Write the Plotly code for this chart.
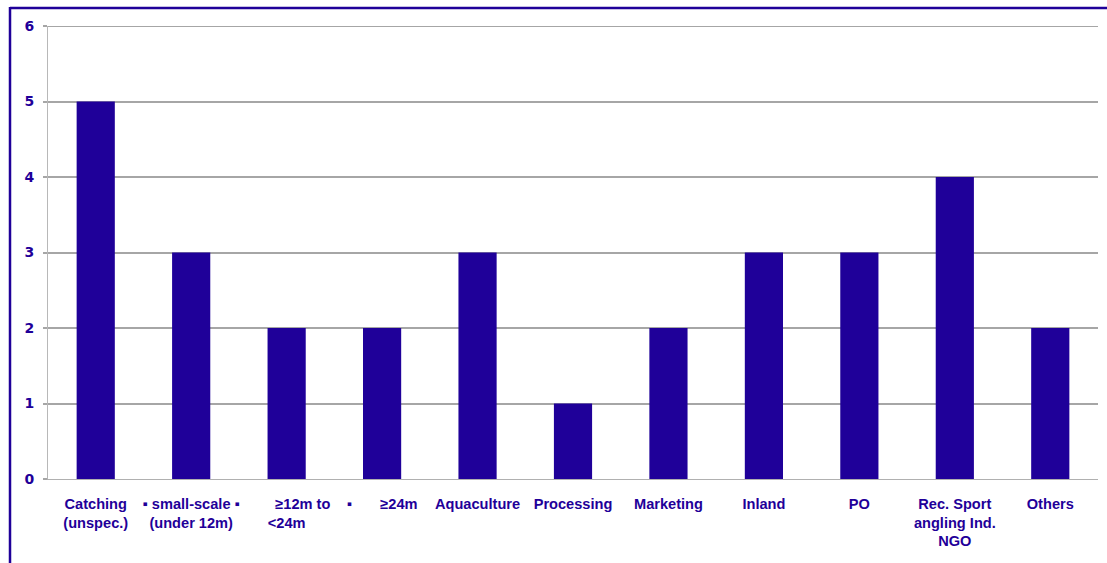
import plotly.graph_objects as go

categories = ["Catching (unspec.)", "small-scale (under 12m)", ">=12m to <24m", ">=24m",
              "Aquaculture", "Processing", "Marketing", "Inland", "PO",
              "Rec. Sport angling Ind. NGO", "Others"]
tick_labels = ["Catching<br>(unspec.)",
               "▪ small-scale ▪<br>(under 12m)",
               "\u00a0" * 8 + "≥12m to<br><24m",
               "▪" + "\u00a0" * 7 + "≥24m",
               "Aquaculture", "Processing", "Marketing", "Inland", "PO",
               "Rec. Sport<br>angling Ind.<br>NGO", "Others"]
values = [5, 3, 2, 2, 3, 1, 2, 3, 3, 4, 2]
y_ticks = [0, 1, 2, 3, 4, 5, 6]

BLUE = "#1f0099"
W, H = 1107, 563
L, R, T, B = 48, 9, 26, 84
pw, ph = W - L - R, H - T - B

fig = go.Figure(go.Bar(x=categories, y=values, marker=dict(color=BLUE, line=dict(width=0))))

fig.update_layout(
    width=W, height=H,
    margin=dict(l=L, r=R, t=T, b=B, autoexpand=False),
    plot_bgcolor="white", paper_bgcolor="white",
    bargap=0.6, showlegend=False,
    font=dict(family="Liberation Sans, Arial, sans-serif", color=BLUE),
)
fig.update_xaxes(
    tickmode="array", tickvals=categories, ticktext=tick_labels, tickangle=0,
    tickfont=dict(size=14.6, family="Liberation Sans, Arial, sans-serif", color=BLUE, weight="bold"),
    showline=True, linecolor="#b0b0b0", linewidth=1, ticks="", ticklabelstandoff=11,
    showgrid=False,
)
fig.update_yaxes(
    range=[0, 6], tickmode="array", tickvals=y_ticks, ticktext=[str(v) for v in y_ticks],
    tickfont=dict(size=14, family="DejaVu Sans, Verdana, sans-serif", color=BLUE, weight="bold"),
    showgrid=True, gridcolor="#a6a6a6", gridwidth=2,
    showline=True, linecolor="#b8b8b8", linewidth=1,
    ticks="outside", ticklen=4, tickcolor="#a6a6a6", tickwidth=2, ticklabelstandoff=6,
    zeroline=False,
)

# top gridline at the axis maximum (Plotly hides the one on the plot edge)
fig.add_shape(type="line", xref="paper", yref="y", x0=0, x1=1,
              y0=y_ticks[-1], y1=y_ticks[-1], line=dict(color="#a6a6a6", width=2))

# outer frame (top and left borders)
def px(x):
    return (x - L) / pw

def py(y):
    return 1 - (y - T) / ph

fig.add_shape(type="line", xref="paper", yref="paper", x0=px(10), x1=px(W + 5),
              y0=py(8), y1=py(8), line=dict(color=BLUE, width=2.5))
fig.add_shape(type="line", xref="paper", yref="paper", x0=px(10), x1=px(10),
              y0=py(7), y1=py(H + 5), line=dict(color=BLUE, width=2.5))

fig.write_html("out.html")
